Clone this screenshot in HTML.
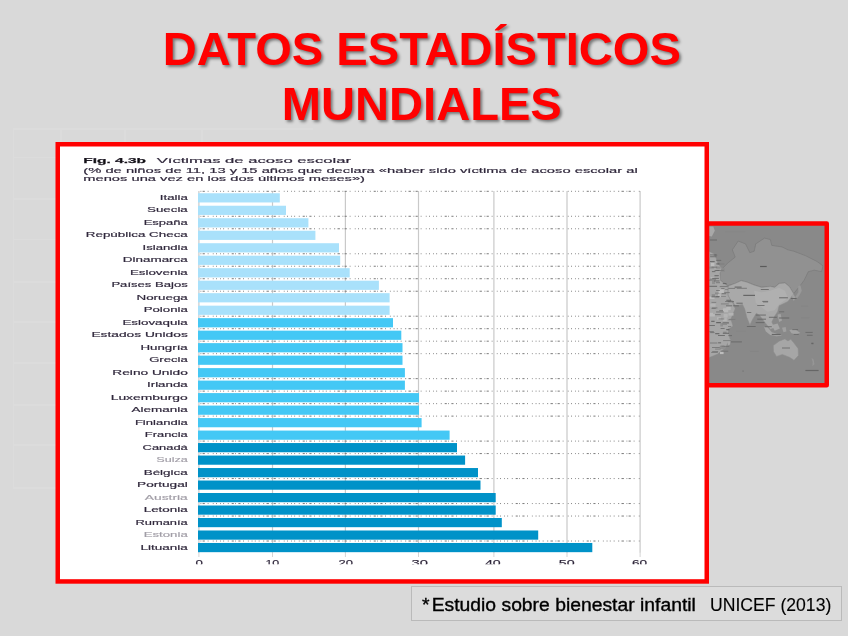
<!DOCTYPE html>
<html lang="es"><head><meta charset="utf-8"><title>Datos estadísticos mundiales</title>
<style>
html,body{margin:0;padding:0}
body{width:848px;height:636px;overflow:hidden;background:#d9d9d9;position:relative;font-family:"Liberation Sans",sans-serif}
.title{position:absolute;left:0;top:21px;width:843.6px;text-align:center;color:#ff0000;font-weight:bold;font-size:47.1px;line-height:55.2px;text-shadow:2px 2px 3px rgba(0,0,0,.45);margin:0;white-space:nowrap}
.map{position:absolute;left:704px;top:218px;width:130px;height:174px;overflow:hidden}
.tbl i{position:absolute;background:#dcdcdc;display:block}
.chart{position:absolute;left:0;top:0}
.chart text{font-family:"Liberation Sans",sans-serif;fill:#30283c;stroke:#30283c;stroke-width:.16px}
.lb{font-size:7.2px}
.ax{font-size:8.8px;fill:#3a3448}
.h1{font-size:7.6px}
.h1.b{font-weight:bold;fill:#111}
.h2{font-size:7.4px;stroke-width:.1px}
.h1{stroke-width:.1px}
.h1.b{stroke-width:.25px}
.note{position:absolute;left:410.5px;top:586px;width:431.5px;height:34.5px;border:1px solid #bababa;background:#dcdcdc;box-sizing:border-box}
.note span{position:absolute;top:6.6px;font-size:18.3px;line-height:22px;color:#000;white-space:pre;transform-origin:0 0}
#n1{left:10.3px;transform:scaleX(1.057);-webkit-text-stroke:.36px #000}
#n1 i{font-style:normal;margin-right:2px}
#n2{left:298.1px;transform:scaleX(.963);-webkit-text-stroke:.12px #000}
</style></head><body>
<h1 class="title">DATOS ESTADÍSTICOS<br>MUNDIALES</h1>
<div class="tbl"><i style="left:12.5px;top:128px;width:1.5px;height:359.5px"></i><i style="left:60px;top:128px;width:1.5px;height:359.5px"></i><i style="left:124px;top:128px;width:1.5px;height:14px"></i><i style="left:201px;top:128px;width:1.5px;height:14px"></i><i style="left:12.5px;top:128px;width:300px;height:1.5px"></i><i style="left:12.5px;top:156.5px;width:44px;height:1.5px"></i><i style="left:12.5px;top:198px;width:44px;height:1.5px"></i><i style="left:12.5px;top:238.5px;width:44px;height:1.5px"></i><i style="left:12.5px;top:281px;width:44px;height:1.5px"></i><i style="left:12.5px;top:321px;width:44px;height:1.5px"></i><i style="left:12.5px;top:362px;width:44px;height:1.5px"></i><i style="left:12.5px;top:404px;width:44px;height:1.5px"></i><i style="left:12.5px;top:444px;width:44px;height:1.5px"></i><i style="left:12.5px;top:487px;width:44px;height:1.5px"></i></div>
<div class="map"><svg width="130" height="174" viewBox="704 218 130 174" style="position:absolute;left:0;top:0">
<defs><filter id="mb" x="-5%" y="-5%" width="110%" height="110%"><feGaussianBlur stdDeviation="0.45"/></filter>
<clipPath id="mc"><rect x="707" y="223.55" width="119.75" height="161.8"/></clipPath></defs>
<rect x="707" y="223.55" width="119.75" height="161.8" fill="#898989"/>
<g clip-path="url(#mc)"><g filter="url(#mb)">
<polygon points="720.6,280.5 719.9,273.2 722.1,268.8 727.9,262.9 735.2,257.1 732.3,249.8 738.2,241.0 745.5,243.9 749.9,252.7 754.2,251.2 755.7,243.9 764.5,238.1 770.3,239.5 771.8,245.4 782.0,246.9 787.9,249.8 793.7,251.2 805.4,255.6 817.1,261.5 823.0,265.9 821.5,271.7 814.2,270.2 808.3,271.7 804.0,280.5 799.6,286.3 793.7,293.6 789.3,286.3 784.9,282.7 779.1,283.4 774.7,287.1 770.3,286.3 761.6,287.1 754.2,284.9 746.9,281.9 741.1,280.5 735.2,283.4 727.9,285.6" fill="#919191" stroke="#7a7a7a" stroke-width="0.7" stroke-linejoin="round"/>
<polygon points="727.9,286.3 735.2,283.4 741.1,280.8 746.9,282.2 754.2,285.2 761.6,287.4 770.3,286.6 774.7,287.4 779.1,283.7 784.9,283.0 789.3,286.6 793.7,293.9 787.9,301.5 779.1,305.8 777.6,311.7 774.7,316.1 771.8,321.9 774.7,327.8 770.3,329.2 764.5,321.9 760.1,316.1 756.4,313.2 752.8,319.0 749.9,325.1 746.9,317.5 744.7,308.8 742.5,304.4 735.2,305.8 731.6,300.0 730.9,300.9 727.9,295.1" fill="#a9a9a9" stroke="#8c8c8c" stroke-width="0.5" stroke-linejoin="round"/>
<polygon points="754.2,290.7 761.6,292.2 770.3,290.7 779.1,287.8 784.9,290.7 787.9,298.0 779.1,304.4 774.7,310.2 767.4,311.7 761.6,307.3 755.7,302.9" fill="#b0b0b0"/>
<polygon points="708.9,251.2 714.8,254.2 717.7,262.9 722.1,268.8 719.9,273.2 720.6,280.5 727.9,286.3 727.9,295.1 730.9,300.9 731.6,300.0 735.2,308.8 730.9,319.0 733.0,326.3 727.9,329.2 730.1,339.5 725.0,348.2 717.7,354.1 708.9,357.7" fill="#a6a6a6" stroke="#8a8a8a" stroke-width="0.5" stroke-linejoin="round"/>
<polygon points="708.9,226.4 713.3,226.4 714.8,230.8 711.8,236.6 708.9,235.9" fill="#a8a8a8"/>
<polygon points="791.5,295.1 793.7,294.4 795.5,298.0 793.7,300.9" fill="#a0a0a0"/>
<polygon points="798.1,286.3 800.3,284.9 801.8,290.7 799.6,295.1 797.4,298.0 795.2,297.3 798.4,292.2" fill="#999"/>
<polygon points="763.7,326.3 767.4,327.0 771.8,332.2 779.1,334.4 782.0,335.8 776.2,336.3 770.3,335.1 765.9,331.4" fill="#a6a6a6"/>
<polygon points="771.8,324.9 777.6,323.4 779.8,328.5 774.7,330.7" fill="#a6a6a6"/>
<polygon points="777.6,314.6 780.6,313.9 782.0,320.5 779.1,321.9" fill="#a3a3a3"/>
<polygon points="782.0,327.8 785.7,327.0 786.4,331.4 783.5,332.2" fill="#a0a0a0"/>
<polygon points="789.3,330.0 795.2,329.2 800.3,332.9 795.9,334.4 791.5,333.3" fill="#a3a3a3"/>
<polygon points="773.3,345.6 779.1,341.2 784.9,338.9 787.9,340.9 790.8,339.2 793.7,342.7 798.1,348.5 798.4,355.6 794.0,360.2 789.6,357.3 782.3,354.4 776.5,356.4 773.5,351.5" fill="#a6a6a6" stroke="#8c8c8c" stroke-width="0.5" stroke-linejoin="round"/>
<polygon points="811.6,358.2 813.5,359.2 814.5,364.3 812.4,366.1 812.7,362.1" fill="#969696"/>
<polygon points="727.9,340.2 730.6,339.2 730.1,344.6 727.9,345.6" fill="#a8a8a8"/>
<rect x="760.1" y="265.9" width="6.6" height="1.2" fill="#5a5a5a"/>
<rect x="760.8" y="289.0" width="8.0" height="1.0" fill="#707070"/>
<rect x="762.3" y="300.9" width="5.8" height="1.0" fill="#707070"/>
<rect x="736.7" y="287.8" width="10.2" height="1.0" fill="#7a7a7a"/>
<rect x="743.3" y="294.8" width="11.7" height="1.2" fill="#666"/>
<rect x="779.1" y="297.3" width="8.8" height="1.0" fill="#666"/>
<rect x="790.8" y="298.0" width="5.8" height="1.0" fill="#666"/>
<rect x="709.7" y="239.5" width="7.3" height="1.0" fill="#6a6a6a"/>
<rect x="725.0" y="231.5" width="20.5" height="0.7" fill="#858585"/>
<rect x="782.0" y="347.5" width="8.0" height="1.0" fill="#707070"/>
<rect x="805.4" y="369.9" width="13.2" height="1.2" fill="#666"/>
<rect x="746.9" y="326.0" width="8.8" height="1.0" fill="#6a6a6a"/>
<rect x="730.9" y="341.4" width="11.0" height="1.0" fill="#6a6a6a"/>
<rect x="768.9" y="316.8" width="8.0" height="0.9" fill="#666"/>
<rect x="779.1" y="317.5" width="10.2" height="1.0" fill="#666"/>
<rect x="755.7" y="314.6" width="10.2" height="0.9" fill="#666"/>
<rect x="757.2" y="318.7" width="8.8" height="0.9" fill="#666"/>
<rect x="755.7" y="322.2" width="8.8" height="0.9" fill="#666"/>
<rect x="764.5" y="326.3" width="7.3" height="0.9" fill="#6a6a6a"/>
<rect x="771.8" y="333.9" width="8.8" height="1.2" fill="#666"/>
<rect x="792.3" y="329.2" width="5.8" height="0.9" fill="#6a6a6a"/>
<rect x="793.7" y="333.9" width="5.1" height="0.9" fill="#6a6a6a"/>
<rect x="805.4" y="331.9" width="7.3" height="0.9" fill="#6a6a6a"/>
<rect x="806.9" y="334.8" width="5.8" height="0.9" fill="#6a6a6a"/>
<rect x="779.1" y="311.4" width="5.1" height="0.9" fill="#6a6a6a"/>
<rect x="746.9" y="312.0" width="4.4" height="0.9" fill="#707070"/>
<rect x="763.0" y="301.5" width="5.1" height="0.9" fill="#707070"/>
<rect x="757.2" y="305.1" width="7.3" height="0.9" fill="#707070"/>
<rect x="811.3" y="342.7" width="2.2" height="1.5" fill="#666"/>
<rect x="742.3" y="370.5" width="1.5" height="1.2" fill="#777"/>
<rect x="801.0" y="305.8" width="7.3" height="0.7" fill="#848484"/>
<rect x="801.0" y="317.5" width="8.8" height="0.7" fill="#848484"/>
<rect x="736.7" y="330.7" width="8.8" height="0.7" fill="#848484"/>
<rect x="749.9" y="350.9" width="8.8" height="0.7" fill="#848484"/>
<rect x="716.1" y="266.6" width="4.5" height="2.1" fill="#909090"/>
<rect x="709.6" y="314.1" width="5.2" height="2.4" fill="#b8b8b8"/>
<rect x="709.5" y="296.7" width="5.0" height="2.2" fill="#bdbdbd"/>
<rect x="724.7" y="314.1" width="2.7" height="3.2" fill="#b8b8b8"/>
<rect x="711.0" y="263.0" width="3.4" height="3.6" fill="#bdbdbd"/>
<rect x="709.9" y="312.8" width="3.1" height="2.2" fill="#b8b8b8"/>
<rect x="722.8" y="318.1" width="4.0" height="3.1" fill="#b4b4b4"/>
<rect x="720.0" y="351.6" width="3.6" height="2.5" fill="#bdbdbd"/>
<rect x="723.1" y="307.8" width="5.1" height="3.5" fill="#b4b4b4"/>
<rect x="721.3" y="268.1" width="3.5" height="3.9" fill="#8c8c8c"/>
<rect x="728.4" y="313.0" width="5.1" height="2.6" fill="#b4b4b4"/>
<rect x="723.6" y="313.8" width="3.9" height="3.7" fill="#b4b4b4"/>
<rect x="720.3" y="323.1" width="2.7" height="3.4" fill="#909090"/>
<rect x="715.0" y="292.4" width="4.5" height="2.0" fill="#8c8c8c"/>
<rect x="717.0" y="317.2" width="4.0" height="2.4" fill="#b4b4b4"/>
<rect x="710.6" y="277.2" width="3.7" height="3.7" fill="#b8b8b8"/>
<rect x="711.7" y="294.2" width="3.3" height="2.3" fill="#8c8c8c"/>
<rect x="718.6" y="289.5" width="5.2" height="3.9" fill="#bdbdbd"/>
<rect x="709.3" y="266.6" width="4.5" height="2.0" fill="#909090"/>
<rect x="712.1" y="281.0" width="2.9" height="3.1" fill="#909090"/>
<rect x="726.3" y="306.7" width="4.4" height="3.4" fill="#b8b8b8"/>
<rect x="719.8" y="345.8" width="5.4" height="3.4" fill="#909090"/>
<rect x="718.0" y="293.9" width="2.8" height="3.3" fill="#b8b8b8"/>
<rect x="722.9" y="309.0" width="5.3" height="3.2" fill="#b8b8b8"/>
<rect x="711.2" y="277.7" width="3.5" height="2.7" fill="#b8b8b8"/>
<rect x="710.2" y="303.7" width="5.4" height="3.0" fill="#b4b4b4"/>
<rect x="710.0" y="261.2" width="4.7" height="0.9" fill="#606060"/>
<rect x="716.1" y="290.3" width="3.8" height="0.7" fill="#686868"/>
<rect x="726.0" y="305.3" width="6.2" height="1.0" fill="#727272"/>
<rect x="725.1" y="289.1" width="3.1" height="0.7" fill="#7c7c7c"/>
<rect x="728.2" y="287.9" width="7.0" height="1.0" fill="#7c7c7c"/>
<rect x="714.7" y="275.0" width="4.0" height="0.7" fill="#606060"/>
<rect x="736.4" y="302.7" width="6.3" height="1.0" fill="#6a6a6a"/>
<rect x="720.6" y="328.3" width="4.0" height="0.7" fill="#606060"/>
<rect x="734.6" y="286.6" width="7.0" height="1.0" fill="#606060"/>
<rect x="723.2" y="331.8" width="3.4" height="0.7" fill="#727272"/>
<rect x="727.7" y="301.2" width="6.3" height="1.0" fill="#686868"/>
<rect x="719.3" y="310.4" width="3.7" height="0.7" fill="#6a6a6a"/>
<rect x="722.2" y="345.9" width="7.1" height="0.7" fill="#6a6a6a"/>
<rect x="715.8" y="282.2" width="4.2" height="1.0" fill="#7c7c7c"/>
<rect x="716.1" y="296.1" width="3.7" height="1.0" fill="#7c7c7c"/>
<rect x="711.6" y="266.7" width="5.6" height="0.9" fill="#727272"/>
<rect x="728.3" y="335.4" width="3.7" height="0.7" fill="#606060"/>
<rect x="709.2" y="325.1" width="5.7" height="0.9" fill="#6a6a6a"/>
<rect x="713.7" y="254.6" width="3.5" height="0.9" fill="#686868"/>
<rect x="709.2" y="285.8" width="7.9" height="1.0" fill="#686868"/>
<rect x="714.0" y="280.5" width="5.5" height="0.9" fill="#686868"/>
<rect x="716.1" y="311.5" width="7.7" height="0.9" fill="#727272"/>
<rect x="721.6" y="293.2" width="4.6" height="1.0" fill="#727272"/>
<rect x="717.6" y="263.5" width="6.9" height="1.0" fill="#7c7c7c"/>
<rect x="712.0" y="347.1" width="7.8" height="0.7" fill="#6a6a6a"/>
<rect x="720.9" y="303.6" width="7.9" height="0.7" fill="#727272"/>
<rect x="721.1" y="296.3" width="4.8" height="0.7" fill="#7c7c7c"/>
<rect x="718.6" y="318.6" width="5.6" height="0.7" fill="#6a6a6a"/>
<rect x="711.5" y="296.4" width="7.6" height="0.9" fill="#606060"/>
<rect x="712.2" y="351.1" width="5.9" height="1.0" fill="#7c7c7c"/>
<rect x="710.1" y="256.3" width="6.4" height="0.9" fill="#6a6a6a"/>
<rect x="710.1" y="278.7" width="6.0" height="0.7" fill="#6a6a6a"/>
<rect x="716.3" y="263.4" width="3.1" height="1.0" fill="#606060"/>
<rect x="711.5" y="308.0" width="4.2" height="0.7" fill="#727272"/>
<rect x="716.2" y="269.9" width="7.7" height="1.0" fill="#7c7c7c"/>
<rect x="722.6" y="323.9" width="4.4" height="0.7" fill="#7c7c7c"/>
<rect x="722.6" y="322.4" width="6.3" height="1.0" fill="#606060"/>
<rect x="714.5" y="275.3" width="4.0" height="1.0" fill="#727272"/>
<rect x="721.2" y="288.2" width="3.3" height="0.7" fill="#6a6a6a"/>
<rect x="709.5" y="331.5" width="4.3" height="0.7" fill="#6a6a6a"/>
<rect x="710.0" y="342.5" width="7.4" height="1.0" fill="#7c7c7c"/>
<rect x="728.0" y="326.2" width="3.2" height="0.7" fill="#727272"/>
<rect x="719.7" y="286.2" width="7.9" height="0.9" fill="#727272"/>
<rect x="714.6" y="270.1" width="4.7" height="0.7" fill="#606060"/>
<rect x="716.8" y="322.2" width="4.2" height="0.7" fill="#6a6a6a"/>
<rect x="716.2" y="259.9" width="5.0" height="0.7" fill="#606060"/>
<rect x="715.1" y="314.4" width="5.6" height="0.7" fill="#686868"/>
<rect x="720.6" y="285.9" width="7.9" height="0.7" fill="#7c7c7c"/>
<rect x="711.9" y="307.6" width="5.5" height="0.7" fill="#686868"/>
<rect x="710.0" y="254.6" width="6.2" height="0.7" fill="#606060"/>
<rect x="729.0" y="318.9" width="6.4" height="0.9" fill="#7c7c7c"/>
<rect x="733.2" y="305.3" width="5.7" height="1.0" fill="#686868"/>
<rect x="709.3" y="331.0" width="4.3" height="0.7" fill="#7c7c7c"/>
<rect x="715.2" y="333.2" width="4.2" height="1.0" fill="#606060"/>
<rect x="724.3" y="292.1" width="5.4" height="1.0" fill="#7c7c7c"/>
<rect x="712.2" y="277.9" width="6.7" height="0.9" fill="#686868"/>
<rect x="709.1" y="279.6" width="6.4" height="1.0" fill="#727272"/>
<rect x="725.1" y="301.1" width="5.3" height="0.7" fill="#686868"/>
<rect x="723.1" y="340.2" width="7.8" height="0.9" fill="#7c7c7c"/>
<rect x="720.5" y="350.8" width="7.7" height="0.7" fill="#686868"/>
<rect x="710.2" y="332.2" width="4.3" height="0.9" fill="#727272"/>
<rect x="728.1" y="319.5" width="4.4" height="0.7" fill="#7c7c7c"/>
<rect x="715.1" y="348.7" width="5.4" height="0.7" fill="#727272"/>
<rect x="722.8" y="283.2" width="3.7" height="0.9" fill="#606060"/>
<rect x="718.1" y="342.4" width="3.0" height="0.9" fill="#606060"/>
<rect x="711.2" y="351.9" width="6.6" height="1.0" fill="#7c7c7c"/>
<rect x="720.7" y="345.7" width="3.4" height="0.9" fill="#7c7c7c"/>
<rect x="718.0" y="335.1" width="6.9" height="0.9" fill="#6a6a6a"/>
<rect x="726.2" y="329.2" width="3.2" height="1.0" fill="#606060"/>
<rect x="722.8" y="332.8" width="6.2" height="0.9" fill="#606060"/>
<rect x="711.5" y="301.9" width="4.7" height="0.9" fill="#7c7c7c"/>
<rect x="716.1" y="322.2" width="4.5" height="1.0" fill="#606060"/>
<rect x="711.2" y="320.8" width="3.4" height="1.0" fill="#606060"/>
<rect x="726.3" y="299.8" width="4.7" height="0.9" fill="#606060"/>
<rect x="711.9" y="271.2" width="3.5" height="0.9" fill="#686868"/>
</g></g>
<rect x="707" y="223.55" width="119.75" height="161.8" fill="none" stroke="#ff0000" stroke-width="4.5" stroke-linejoin="round"/>
</svg></div>
<svg class="chart" width="848" height="636" viewBox="0 0 848 636">
<rect x="57.75" y="144.25" width="649" height="437.2" fill="#fff" stroke="#ff0000" stroke-width="4.5"/>
<rect x="198.3" y="191" width="1.2" height="361.5" fill="#c9c9c9"/>
<rect x="198.4" y="552" width="1" height="5" fill="#d4d4d4"/>
<rect x="271.9" y="191" width="1.2" height="361.5" fill="#c9c9c9"/>
<rect x="272.0" y="552" width="1" height="5" fill="#d4d4d4"/>
<rect x="344.8" y="191" width="1.2" height="361.5" fill="#c9c9c9"/>
<rect x="344.9" y="552" width="1" height="5" fill="#d4d4d4"/>
<rect x="417.9" y="191" width="1.2" height="361.5" fill="#c9c9c9"/>
<rect x="418.0" y="552" width="1" height="5" fill="#d4d4d4"/>
<rect x="493.3" y="191" width="1.2" height="361.5" fill="#c9c9c9"/>
<rect x="493.4" y="552" width="1" height="5" fill="#d4d4d4"/>
<rect x="566.4" y="191" width="1.2" height="361.5" fill="#c9c9c9"/>
<rect x="566.5" y="552" width="1" height="5" fill="#d4d4d4"/>
<rect x="639.5" y="191" width="1.2" height="361.5" fill="#c9c9c9"/>
<rect x="639.6" y="552" width="1" height="5" fill="#d4d4d4"/>
<rect x="198.0" y="193.25" width="81.8" height="9.2" fill="#a9e1fb"/>
<rect x="198.0" y="205.74" width="88.0" height="9.2" fill="#a9e1fb"/>
<rect x="198.0" y="218.23" width="110.4" height="9.2" fill="#a9e1fb"/>
<rect x="198.0" y="230.72" width="117.4" height="9.2" fill="#a9e1fb"/>
<rect x="198.0" y="243.21" width="141.0" height="9.2" fill="#a9e1fb"/>
<rect x="198.0" y="255.70" width="142.2" height="9.2" fill="#a9e1fb"/>
<rect x="198.0" y="268.19" width="151.7" height="9.2" fill="#a9e1fb"/>
<rect x="198.0" y="280.68" width="180.9" height="9.2" fill="#a9e1fb"/>
<rect x="198.0" y="293.17" width="191.6" height="9.2" fill="#a9e1fb"/>
<rect x="198.0" y="305.66" width="191.6" height="9.2" fill="#a9e1fb"/>
<rect x="198.0" y="318.15" width="195.0" height="9.2" fill="#44c8f5"/>
<rect x="198.0" y="330.64" width="203.3" height="9.2" fill="#44c8f5"/>
<rect x="198.0" y="343.13" width="204.5" height="9.2" fill="#44c8f5"/>
<rect x="198.0" y="355.62" width="204.5" height="9.2" fill="#44c8f5"/>
<rect x="198.0" y="368.11" width="206.9" height="9.2" fill="#44c8f5"/>
<rect x="198.0" y="380.60" width="206.9" height="9.2" fill="#44c8f5"/>
<rect x="198.0" y="393.09" width="221.0" height="9.2" fill="#44c8f5"/>
<rect x="198.0" y="405.58" width="221.0" height="9.2" fill="#44c8f5"/>
<rect x="198.0" y="418.07" width="223.6" height="9.2" fill="#44c8f5"/>
<rect x="198.0" y="430.56" width="251.6" height="9.2" fill="#44c8f5"/>
<rect x="198.0" y="443.05" width="259.0" height="9.2" fill="#0092c8"/>
<rect x="198.0" y="455.54" width="267.1" height="9.2" fill="#0092c8"/>
<rect x="198.0" y="468.03" width="280.0" height="9.2" fill="#0092c8"/>
<rect x="198.0" y="480.52" width="282.5" height="9.2" fill="#0092c8"/>
<rect x="198.0" y="493.01" width="297.7" height="9.2" fill="#0092c8"/>
<rect x="198.0" y="505.50" width="297.7" height="9.2" fill="#0092c8"/>
<rect x="198.0" y="517.99" width="303.8" height="9.2" fill="#0092c8"/>
<rect x="198.0" y="530.48" width="340.2" height="9.2" fill="#0092c8"/>
<rect x="198.0" y="542.97" width="394.3" height="9.2" fill="#0092c8"/>
<line x1="198" x2="640.6" y1="191.30" y2="191.30" stroke="#7a7a7a" stroke-width="1" stroke-dasharray="0.8 1.3 2.2 2.9 0.8 4.3 0.8 2.5 0.9 3 0.8 2.4 0.9 3.7 0.9 3 2.1 1.3 0.8 2.5 2.1 2.6 0.9 3.9 0.8 2.9 0.9 2.3 0.9 3 0.9 3.6 1 2.3 2.4 2.6" stroke-dashoffset="-2.5"/>
<line x1="198" x2="640.6" y1="216.28" y2="216.28" stroke="#7a7a7a" stroke-width="1" stroke-dasharray="0.8 1.3 2.2 2.9 0.8 4.3 0.8 2.5 0.9 3 0.8 2.4 0.9 3.7 0.9 3 2.1 1.3 0.8 2.5 2.1 2.6 0.9 3.9 0.8 2.9 0.9 2.3 0.9 3 0.9 3.6 1 2.3 2.4 2.6" stroke-dashoffset="-2.5"/>
<line x1="198" x2="640.6" y1="228.77" y2="228.77" stroke="#7a7a7a" stroke-width="1" stroke-dasharray="0.8 1.3 2.2 2.9 0.8 4.3 0.8 2.5 0.9 3 0.8 2.4 0.9 3.7 0.9 3 2.1 1.3 0.8 2.5 2.1 2.6 0.9 3.9 0.8 2.9 0.9 2.3 0.9 3 0.9 3.6 1 2.3 2.4 2.6" stroke-dashoffset="-2.5"/>
<line x1="198" x2="640.6" y1="253.75" y2="253.75" stroke="#7a7a7a" stroke-width="1" stroke-dasharray="0.8 1.3 2.2 2.9 0.8 4.3 0.8 2.5 0.9 3 0.8 2.4 0.9 3.7 0.9 3 2.1 1.3 0.8 2.5 2.1 2.6 0.9 3.9 0.8 2.9 0.9 2.3 0.9 3 0.9 3.6 1 2.3 2.4 2.6" stroke-dashoffset="-2.5"/>
<line x1="198" x2="640.6" y1="266.24" y2="266.24" stroke="#7a7a7a" stroke-width="1" stroke-dasharray="0.8 1.3 2.2 2.9 0.8 4.3 0.8 2.5 0.9 3 0.8 2.4 0.9 3.7 0.9 3 2.1 1.3 0.8 2.5 2.1 2.6 0.9 3.9 0.8 2.9 0.9 2.3 0.9 3 0.9 3.6 1 2.3 2.4 2.6" stroke-dashoffset="-2.5"/>
<line x1="198" x2="640.6" y1="278.73" y2="278.73" stroke="#7a7a7a" stroke-width="1" stroke-dasharray="0.8 1.3 2.2 2.9 0.8 4.3 0.8 2.5 0.9 3 0.8 2.4 0.9 3.7 0.9 3 2.1 1.3 0.8 2.5 2.1 2.6 0.9 3.9 0.8 2.9 0.9 2.3 0.9 3 0.9 3.6 1 2.3 2.4 2.6" stroke-dashoffset="-2.5"/>
<line x1="198" x2="640.6" y1="291.22" y2="291.22" stroke="#7a7a7a" stroke-width="1" stroke-dasharray="0.8 1.3 2.2 2.9 0.8 4.3 0.8 2.5 0.9 3 0.8 2.4 0.9 3.7 0.9 3 2.1 1.3 0.8 2.5 2.1 2.6 0.9 3.9 0.8 2.9 0.9 2.3 0.9 3 0.9 3.6 1 2.3 2.4 2.6" stroke-dashoffset="-2.5"/>
<line x1="198" x2="640.6" y1="316.20" y2="316.20" stroke="#7a7a7a" stroke-width="1" stroke-dasharray="0.8 1.3 2.2 2.9 0.8 4.3 0.8 2.5 0.9 3 0.8 2.4 0.9 3.7 0.9 3 2.1 1.3 0.8 2.5 2.1 2.6 0.9 3.9 0.8 2.9 0.9 2.3 0.9 3 0.9 3.6 1 2.3 2.4 2.6" stroke-dashoffset="-2.5"/>
<line x1="198" x2="640.6" y1="328.69" y2="328.69" stroke="#7a7a7a" stroke-width="1" stroke-dasharray="0.8 1.3 2.2 2.9 0.8 4.3 0.8 2.5 0.9 3 0.8 2.4 0.9 3.7 0.9 3 2.1 1.3 0.8 2.5 2.1 2.6 0.9 3.9 0.8 2.9 0.9 2.3 0.9 3 0.9 3.6 1 2.3 2.4 2.6" stroke-dashoffset="-2.5"/>
<line x1="198" x2="640.6" y1="341.18" y2="341.18" stroke="#7a7a7a" stroke-width="1" stroke-dasharray="0.8 1.3 2.2 2.9 0.8 4.3 0.8 2.5 0.9 3 0.8 2.4 0.9 3.7 0.9 3 2.1 1.3 0.8 2.5 2.1 2.6 0.9 3.9 0.8 2.9 0.9 2.3 0.9 3 0.9 3.6 1 2.3 2.4 2.6" stroke-dashoffset="-2.5"/>
<line x1="198" x2="640.6" y1="353.67" y2="353.67" stroke="#7a7a7a" stroke-width="1" stroke-dasharray="0.8 1.3 2.2 2.9 0.8 4.3 0.8 2.5 0.9 3 0.8 2.4 0.9 3.7 0.9 3 2.1 1.3 0.8 2.5 2.1 2.6 0.9 3.9 0.8 2.9 0.9 2.3 0.9 3 0.9 3.6 1 2.3 2.4 2.6" stroke-dashoffset="-2.5"/>
<line x1="198" x2="640.6" y1="378.65" y2="378.65" stroke="#7a7a7a" stroke-width="1" stroke-dasharray="0.8 1.3 2.2 2.9 0.8 4.3 0.8 2.5 0.9 3 0.8 2.4 0.9 3.7 0.9 3 2.1 1.3 0.8 2.5 2.1 2.6 0.9 3.9 0.8 2.9 0.9 2.3 0.9 3 0.9 3.6 1 2.3 2.4 2.6" stroke-dashoffset="-2.5"/>
<line x1="198" x2="640.6" y1="391.14" y2="391.14" stroke="#7a7a7a" stroke-width="1" stroke-dasharray="0.8 1.3 2.2 2.9 0.8 4.3 0.8 2.5 0.9 3 0.8 2.4 0.9 3.7 0.9 3 2.1 1.3 0.8 2.5 2.1 2.6 0.9 3.9 0.8 2.9 0.9 2.3 0.9 3 0.9 3.6 1 2.3 2.4 2.6" stroke-dashoffset="-2.5"/>
<line x1="198" x2="640.6" y1="403.63" y2="403.63" stroke="#7a7a7a" stroke-width="1" stroke-dasharray="0.8 1.3 2.2 2.9 0.8 4.3 0.8 2.5 0.9 3 0.8 2.4 0.9 3.7 0.9 3 2.1 1.3 0.8 2.5 2.1 2.6 0.9 3.9 0.8 2.9 0.9 2.3 0.9 3 0.9 3.6 1 2.3 2.4 2.6" stroke-dashoffset="-2.5"/>
<line x1="198" x2="640.6" y1="416.12" y2="416.12" stroke="#7a7a7a" stroke-width="1" stroke-dasharray="0.8 1.3 2.2 2.9 0.8 4.3 0.8 2.5 0.9 3 0.8 2.4 0.9 3.7 0.9 3 2.1 1.3 0.8 2.5 2.1 2.6 0.9 3.9 0.8 2.9 0.9 2.3 0.9 3 0.9 3.6 1 2.3 2.4 2.6" stroke-dashoffset="-2.5"/>
<line x1="198" x2="640.6" y1="441.10" y2="441.10" stroke="#7a7a7a" stroke-width="1" stroke-dasharray="0.8 1.3 2.2 2.9 0.8 4.3 0.8 2.5 0.9 3 0.8 2.4 0.9 3.7 0.9 3 2.1 1.3 0.8 2.5 2.1 2.6 0.9 3.9 0.8 2.9 0.9 2.3 0.9 3 0.9 3.6 1 2.3 2.4 2.6" stroke-dashoffset="-2.5"/>
<line x1="198" x2="640.6" y1="453.59" y2="453.59" stroke="#7a7a7a" stroke-width="1" stroke-dasharray="0.8 1.3 2.2 2.9 0.8 4.3 0.8 2.5 0.9 3 0.8 2.4 0.9 3.7 0.9 3 2.1 1.3 0.8 2.5 2.1 2.6 0.9 3.9 0.8 2.9 0.9 2.3 0.9 3 0.9 3.6 1 2.3 2.4 2.6" stroke-dashoffset="-2.5"/>
<line x1="198" x2="640.6" y1="478.57" y2="478.57" stroke="#7a7a7a" stroke-width="1" stroke-dasharray="0.8 1.3 2.2 2.9 0.8 4.3 0.8 2.5 0.9 3 0.8 2.4 0.9 3.7 0.9 3 2.1 1.3 0.8 2.5 2.1 2.6 0.9 3.9 0.8 2.9 0.9 2.3 0.9 3 0.9 3.6 1 2.3 2.4 2.6" stroke-dashoffset="-2.5"/>
<line x1="198" x2="640.6" y1="503.55" y2="503.55" stroke="#7a7a7a" stroke-width="1" stroke-dasharray="0.8 1.3 2.2 2.9 0.8 4.3 0.8 2.5 0.9 3 0.8 2.4 0.9 3.7 0.9 3 2.1 1.3 0.8 2.5 2.1 2.6 0.9 3.9 0.8 2.9 0.9 2.3 0.9 3 0.9 3.6 1 2.3 2.4 2.6" stroke-dashoffset="-2.5"/>
<line x1="198" x2="640.6" y1="516.04" y2="516.04" stroke="#7a7a7a" stroke-width="1" stroke-dasharray="0.8 1.3 2.2 2.9 0.8 4.3 0.8 2.5 0.9 3 0.8 2.4 0.9 3.7 0.9 3 2.1 1.3 0.8 2.5 2.1 2.6 0.9 3.9 0.8 2.9 0.9 2.3 0.9 3 0.9 3.6 1 2.3 2.4 2.6" stroke-dashoffset="-2.5"/>
<line x1="198" x2="640.6" y1="541.02" y2="541.02" stroke="#7a7a7a" stroke-width="1" stroke-dasharray="0.8 1.3 2.2 2.9 0.8 4.3 0.8 2.5 0.9 3 0.8 2.4 0.9 3.7 0.9 3 2.1 1.3 0.8 2.5 2.1 2.6 0.9 3.9 0.8 2.9 0.9 2.3 0.9 3 0.9 3.6 1 2.3 2.4 2.6" stroke-dashoffset="-2.5"/>
<text x="159.8" y="199.85" textLength="28.0" lengthAdjust="spacingAndGlyphs" class="lb">Italia</text>
<text x="147" y="212.34" textLength="40.8" lengthAdjust="spacingAndGlyphs" class="lb">Suecia</text>
<text x="143.7" y="224.83" textLength="44.1" lengthAdjust="spacingAndGlyphs" class="lb">España</text>
<text x="85.8" y="237.32" textLength="102.0" lengthAdjust="spacingAndGlyphs" class="lb">República Checa</text>
<text x="142.6" y="249.81" textLength="45.2" lengthAdjust="spacingAndGlyphs" class="lb">Islandia</text>
<text x="122.8" y="262.30" textLength="65.0" lengthAdjust="spacingAndGlyphs" class="lb">Dinamarca</text>
<text x="129.9" y="274.79" textLength="57.9" lengthAdjust="spacingAndGlyphs" class="lb">Eslovenia</text>
<text x="111.4" y="287.28" textLength="76.4" lengthAdjust="spacingAndGlyphs" class="lb">Países Bajos</text>
<text x="136.5" y="299.77" textLength="51.3" lengthAdjust="spacingAndGlyphs" class="lb">Noruega</text>
<text x="143.7" y="312.26" textLength="44.1" lengthAdjust="spacingAndGlyphs" class="lb">Polonia</text>
<text x="122.4" y="324.75" textLength="65.4" lengthAdjust="spacingAndGlyphs" class="lb">Eslovaquia</text>
<text x="91.4" y="337.24" textLength="96.4" lengthAdjust="spacingAndGlyphs" class="lb">Estados Unidos</text>
<text x="140.4" y="349.73" textLength="47.4" lengthAdjust="spacingAndGlyphs" class="lb">Hungría</text>
<text x="149.2" y="362.22" textLength="38.6" lengthAdjust="spacingAndGlyphs" class="lb">Grecia</text>
<text x="112.3" y="374.71" textLength="75.5" lengthAdjust="spacingAndGlyphs" class="lb">Reino Unido</text>
<text x="147" y="387.20" textLength="40.8" lengthAdjust="spacingAndGlyphs" class="lb">Irlanda</text>
<text x="110.7" y="399.69" textLength="77.1" lengthAdjust="spacingAndGlyphs" class="lb">Luxemburgo</text>
<text x="131.6" y="412.18" textLength="56.2" lengthAdjust="spacingAndGlyphs" class="lb">Alemania</text>
<text x="134.9" y="424.67" textLength="52.9" lengthAdjust="spacingAndGlyphs" class="lb">Finlandia</text>
<text x="144.8" y="437.16" textLength="43.0" lengthAdjust="spacingAndGlyphs" class="lb">Francia</text>
<text x="142.6" y="449.65" textLength="45.2" lengthAdjust="spacingAndGlyphs" class="lb">Canadá</text>
<text x="156.3" y="462.14" textLength="31.5" lengthAdjust="spacingAndGlyphs" class="lb" opacity="0.45">Suiza</text>
<text x="143.7" y="474.63" textLength="44.1" lengthAdjust="spacingAndGlyphs" class="lb">Bélgica</text>
<text x="137.1" y="487.12" textLength="50.7" lengthAdjust="spacingAndGlyphs" class="lb">Portugal</text>
<text x="144.8" y="499.61" textLength="43.0" lengthAdjust="spacingAndGlyphs" class="lb" opacity="0.45">Austria</text>
<text x="143.7" y="512.10" textLength="44.1" lengthAdjust="spacingAndGlyphs" class="lb">Letonia</text>
<text x="135.4" y="524.59" textLength="52.4" lengthAdjust="spacingAndGlyphs" class="lb">Rumanía</text>
<text x="143.7" y="537.08" textLength="44.1" lengthAdjust="spacingAndGlyphs" class="lb" opacity="0.45">Estonia</text>
<text x="140.4" y="549.57" textLength="47.4" lengthAdjust="spacingAndGlyphs" class="lb">Lituania</text>
<clipPath id="axc"><rect x="180" y="550" width="480" height="14.2"/></clipPath><g clip-path="url(#axc)">
<text x="195.6" y="565.7" textLength="7.4" lengthAdjust="spacingAndGlyphs" class="ax">0</text>
<text x="265.4" y="565.7" textLength="13.9" lengthAdjust="spacingAndGlyphs" class="ax">10</text>
<text x="338.5" y="565.7" textLength="14.5" lengthAdjust="spacingAndGlyphs" class="ax">20</text>
<text x="411.6" y="565.7" textLength="16.4" lengthAdjust="spacingAndGlyphs" class="ax">30</text>
<text x="484.9" y="565.7" textLength="15.8" lengthAdjust="spacingAndGlyphs" class="ax">40</text>
<text x="558.8" y="565.7" textLength="15.9" lengthAdjust="spacingAndGlyphs" class="ax">50</text>
<text x="631.9" y="565.7" textLength="15.2" lengthAdjust="spacingAndGlyphs" class="ax">60</text>
</g>
<text x="83.3" y="162.6" textLength="62.8" lengthAdjust="spacingAndGlyphs" class="h1 b">Fig. 4.3b</text>
<text x="156.7" y="162.6" textLength="194.3" lengthAdjust="spacingAndGlyphs" class="h1">Víctimas de acoso escolar</text>
<text x="83.3" y="173.2" textLength="554.5" lengthAdjust="spacingAndGlyphs" class="h2">(% de niños de 11, 13 y 15 años que declara «haber sido víctima de acoso escolar al</text>
<text x="83.3" y="181.2" textLength="281.7" lengthAdjust="spacingAndGlyphs" class="h2">menos una vez en los dos últimos meses»)</text>
</svg>
<div class="note"><span id="n1"><i>*</i>Estudio sobre bienestar infantil </span><span id="n2">UNICEF (2013)</span></div>
</body></html>
